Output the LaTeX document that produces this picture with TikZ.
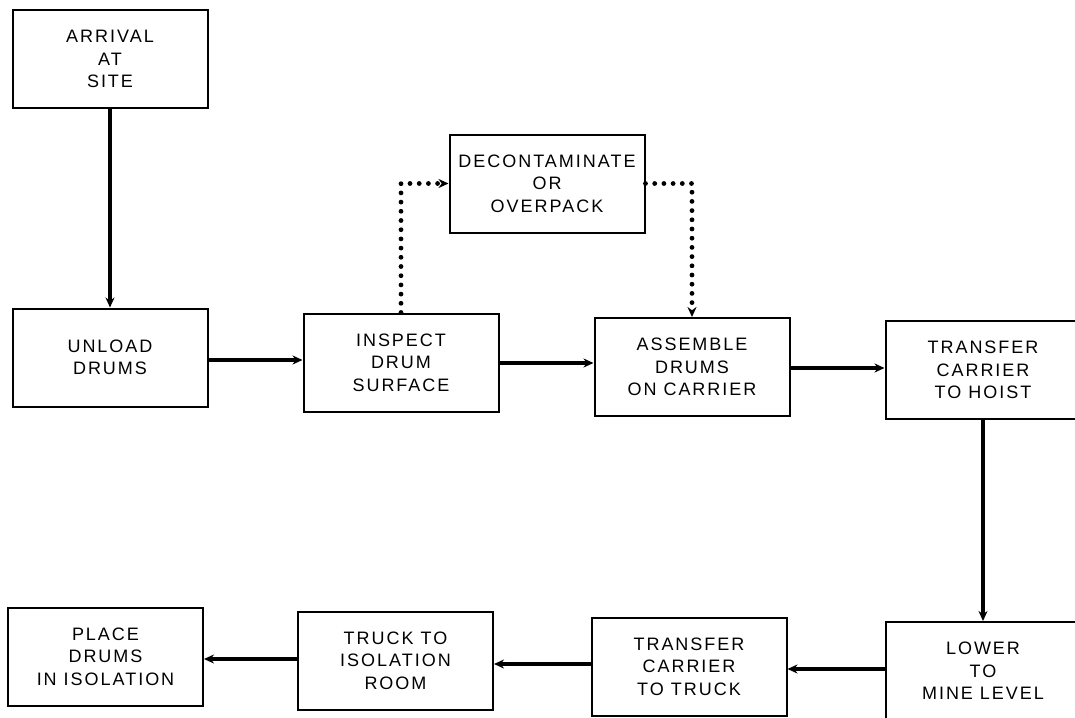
\documentclass[tikz,border=0pt]{standalone}
\usepackage{fontspec}
\setmainfont{Liberation Sans}[LetterSpace=11]
\usetikzlibrary{arrows.meta}
\begin{document}
\begin{tikzpicture}[x=0.5pt,y=-0.5pt,
  box/.style={draw,line width=1pt,minimum width=97.5pt,minimum height=49pt,
    align=center,inner sep=0pt,font=\fontsize{9pt}{11.2pt}\selectfont},
  flow/.style={line width=2.2pt,-{Stealth[length=5pt,width=4.5pt]}},
  dotflow/.style={line width=2.4pt,dash pattern=on 0pt off 4.6pt,line cap=round,
    -{Stealth[length=5pt,width=4.5pt]}}]
\useasboundingbox (0,0) rectangle (1075,717);
% boxes
\node[box] (arrival)  at (110,59)    {ARRIVAL\\AT\\SITE};
\node[box] (unload)   at (110,357.5) {UNLOAD\\DRUMS};
\node[box] (inspect)  at (401,362.5) {INSPECT\\DRUM\\SURFACE};
\node[box] (decon)    at (547,183.5) {DECONTAMINATE\\OR\\OVERPACK};
\node[box] (assemble) at (692,367)   {ASSEMBLE\\DRUMS\\ON CARRIER};
\node[box] (hoist)    at (983,370)   {TRANSFER\\CARRIER\\TO HOIST};
\node[box] (lower)    at (983,671)   {LOWER\\TO\\MINE LEVEL};
\node[box] (truck)    at (689,666.5) {TRANSFER\\CARRIER\\TO TRUCK};
\node[box] (iso)      at (395.5,660.5) {TRUCK TO\\ISOLATION\\ROOM};
\node[box] (place)    at (105.5,656.5) {PLACE\\DRUMS\\IN ISOLATION};
% solid connectors
\draw[flow] (arrival) -- (unload);
\draw[flow] (unload.east |- 0,360) -- (inspect.west |- 0,360);
\draw[flow] (inspect.east |- 0,363) -- (assemble.west |- 0,363);
\draw[flow] (assemble.east |- 0,368) -- (hoist.west |- 0,368);
\draw[flow] (hoist) -- (lower);
\draw[flow] (lower.west |- 0,669) -- (truck.east |- 0,669);
\draw[flow] (truck.west |- 0,664) -- (iso.east |- 0,664);
\draw[flow] (iso.west |- 0,659) -- (place.east |- 0,659);
% dotted connectors
\draw[dotflow] (inspect.north) |- (decon.west);
\draw[dotflow] (decon.east) -| (assemble.north);
\end{tikzpicture}
\end{document}
